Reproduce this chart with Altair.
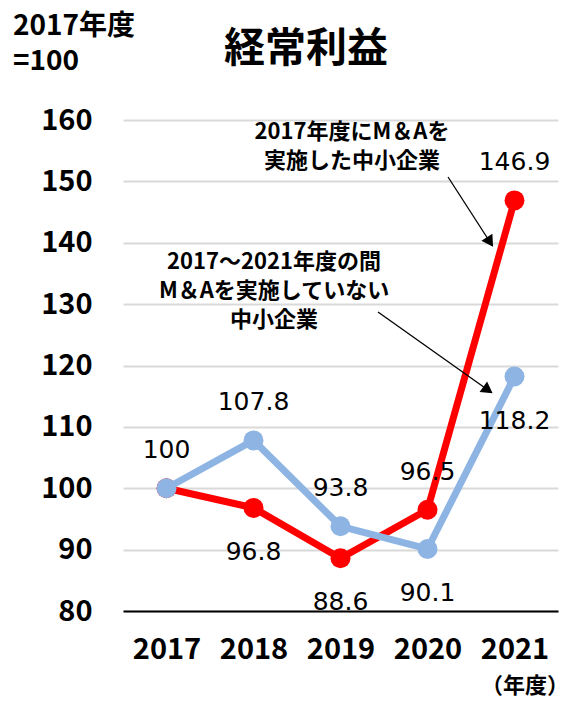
import altair as alt
import pandas as pd

# ---- data ----
years = [2017, 2018, 2019, 2020, 2021]
ma_values = [100, 96.8, 88.6, 96.5, 146.9]          # M&A実施企業 (red)
non_ma_values = [100, 107.8, 93.8, 90.1, 118.2]     # M&A未実施企業 (blue)
ma_label_side = ["above", "below", "below", "above", "above"]
non_ma_label_side = ["none", "above", "above", "below", "below"]
y_ticks = [80, 90, 100, 110, 120, 130, 140, 150, 160]
series_names = ["M&A実施", "M&A未実施"]
series_colors = ["#FF0000", "#8EB4E3"]

ann_text_1 = "2017年度にM＆Aを\n実施した中小企業"
ann_text_2 = "2017～2021年度の間\nM＆Aを実施していない\n中小企業"

rows = []
for s, vals, sides in [(series_names[0], ma_values, ma_label_side),
                       (series_names[1], non_ma_values, non_ma_label_side)]:
    for y, v, side in zip(years, vals, sides):
        rows.append({"year": y, "value": v, "series": s, "side": side,
                     "label": f"{v:g}"})
df = pd.DataFrame(rows)

JP = "Noto Sans CJK JP"
NUM = "DejaVu Sans"

x_enc = alt.X("year:Q",
              scale=alt.Scale(domain=[2016.5, 2021.5], nice=False, zero=False),
              axis=alt.Axis(values=years, format="d", title=None,
                            labelFont=JP, labelFontWeight="bold", labelFontSize=29,
                            labelColor="#000000", labelPadding=24, labelFlush=False,
                            ticks=False, tickSize=0, grid=False,
                            domain=True, domainColor="#000000", domainWidth=2))
y_enc = alt.Y("value:Q",
              scale=alt.Scale(domain=[80, 160], nice=False, zero=False),
              axis=alt.Axis(values=y_ticks, title=None,
                            labelFont=JP, labelFontWeight="bold", labelFontSize=29,
                            labelColor="#000000", labelPadding=31,
                            ticks=False, tickSize=0, grid=True,
                            gridColor="#d9d9d9", gridWidth=2, domain=False))

color_scale = alt.Scale(domain=series_names, range=series_colors)

layers = []
for s in series_names:
    base = alt.Chart(df).transform_filter(alt.datum.series == s)
    layers.append(base.mark_line(strokeWidth=7).encode(
        x=x_enc, y=y_enc, color=alt.Color("series:N", scale=color_scale, legend=None)))
    layers.append(base.mark_circle(size=400, opacity=1).encode(
        x="year:Q", y="value:Q", color=alt.Color("series:N", scale=color_scale, legend=None)))

labels_above = alt.Chart(df).transform_filter(alt.datum.side == "above").mark_text(
    font=NUM, fontSize=25, color="#000000", dy=-38, baseline="middle", align="center"
).encode(x="year:Q", y="value:Q", text="label:N")
labels_below = alt.Chart(df).transform_filter(alt.datum.side == "below").mark_text(
    font=NUM, fontSize=25, color="#000000", dy=44, baseline="middle", align="center"
).encode(x="year:Q", y="value:Q", text="label:N")

# ---- annotations (in data coordinates) ----
arrows = pd.DataFrame({
    "x": [2020.236, 2019.431], "y": [150.71, 128.72],
    "x2": [2020.718, 2020.695], "y2": [140.12, 116.01],
    "angle": [147.3, 125.2],
})
arrow_lines = alt.Chart(arrows).mark_rule(color="#000000", strokeWidth=1.3).encode(
    x="x:Q", y="y:Q", x2="x2:Q", y2="y2:Q")
arrow_heads = alt.Chart(arrows).mark_point(shape="triangle-up", filled=True, size=170,
                                           color="#000000", opacity=1).encode(
    x="x2:Q", y="y2:Q", angle=alt.Angle("angle:Q", scale=None))

ann = pd.DataFrame({"x": [2019.132, 2018.236], "y": [159.67, 138.49],
                    "t": [ann_text_1, ann_text_2]})
ann_text = alt.Chart(ann).mark_text(font=JP, fontWeight="bold", fontSize=22,
                                    lineBreak="\n", lineHeight=29, align="center",
                                    baseline="top", color="#000000").encode(
    x="x:Q", y="y:Q", text="t:N")

# ---- chart texts outside the plot ----
one = pd.DataFrame({"a": [0]})
title = alt.Chart(one).mark_text(text="経常利益", font=JP, fontWeight="bold", fontSize=41,
                                 align="center", baseline="middle", color="#000000").encode(
    x=alt.value(183), y=alt.value(-70))
unit1 = alt.Chart(one).mark_text(text="2017年度", font=JP, fontWeight="bold", fontSize=28,
                                 align="left", baseline="middle", color="#000000").encode(
    x=alt.value(-110), y=alt.value(-93))
unit2 = alt.Chart(one).mark_text(text="=100", font=JP, fontWeight="bold", fontSize=28,
                                 align="left", baseline="middle", color="#000000").encode(
    x=alt.value(-110), y=alt.value(-58))
xunit = alt.Chart(one).mark_text(text="（年度）", font=JP, fontWeight="bold", fontSize=22,
                                 align="right", baseline="middle", color="#000000").encode(
    x=alt.value(446), y=alt.value(566))

chart = alt.layer(*layers, labels_above, labels_below, arrow_lines, arrow_heads,
                  ann_text, title, unit1, unit2, xunit).properties(
    width=435, height=491,
    autosize=alt.AutoSizeParams(type="none"),
    padding={"left": 115, "top": 112, "right": 9, "bottom": 90},
    background="#ffffff",
).configure_view(stroke=None)

chart.save("out.html", embed_options={"renderer": "svg", "actions": False})
